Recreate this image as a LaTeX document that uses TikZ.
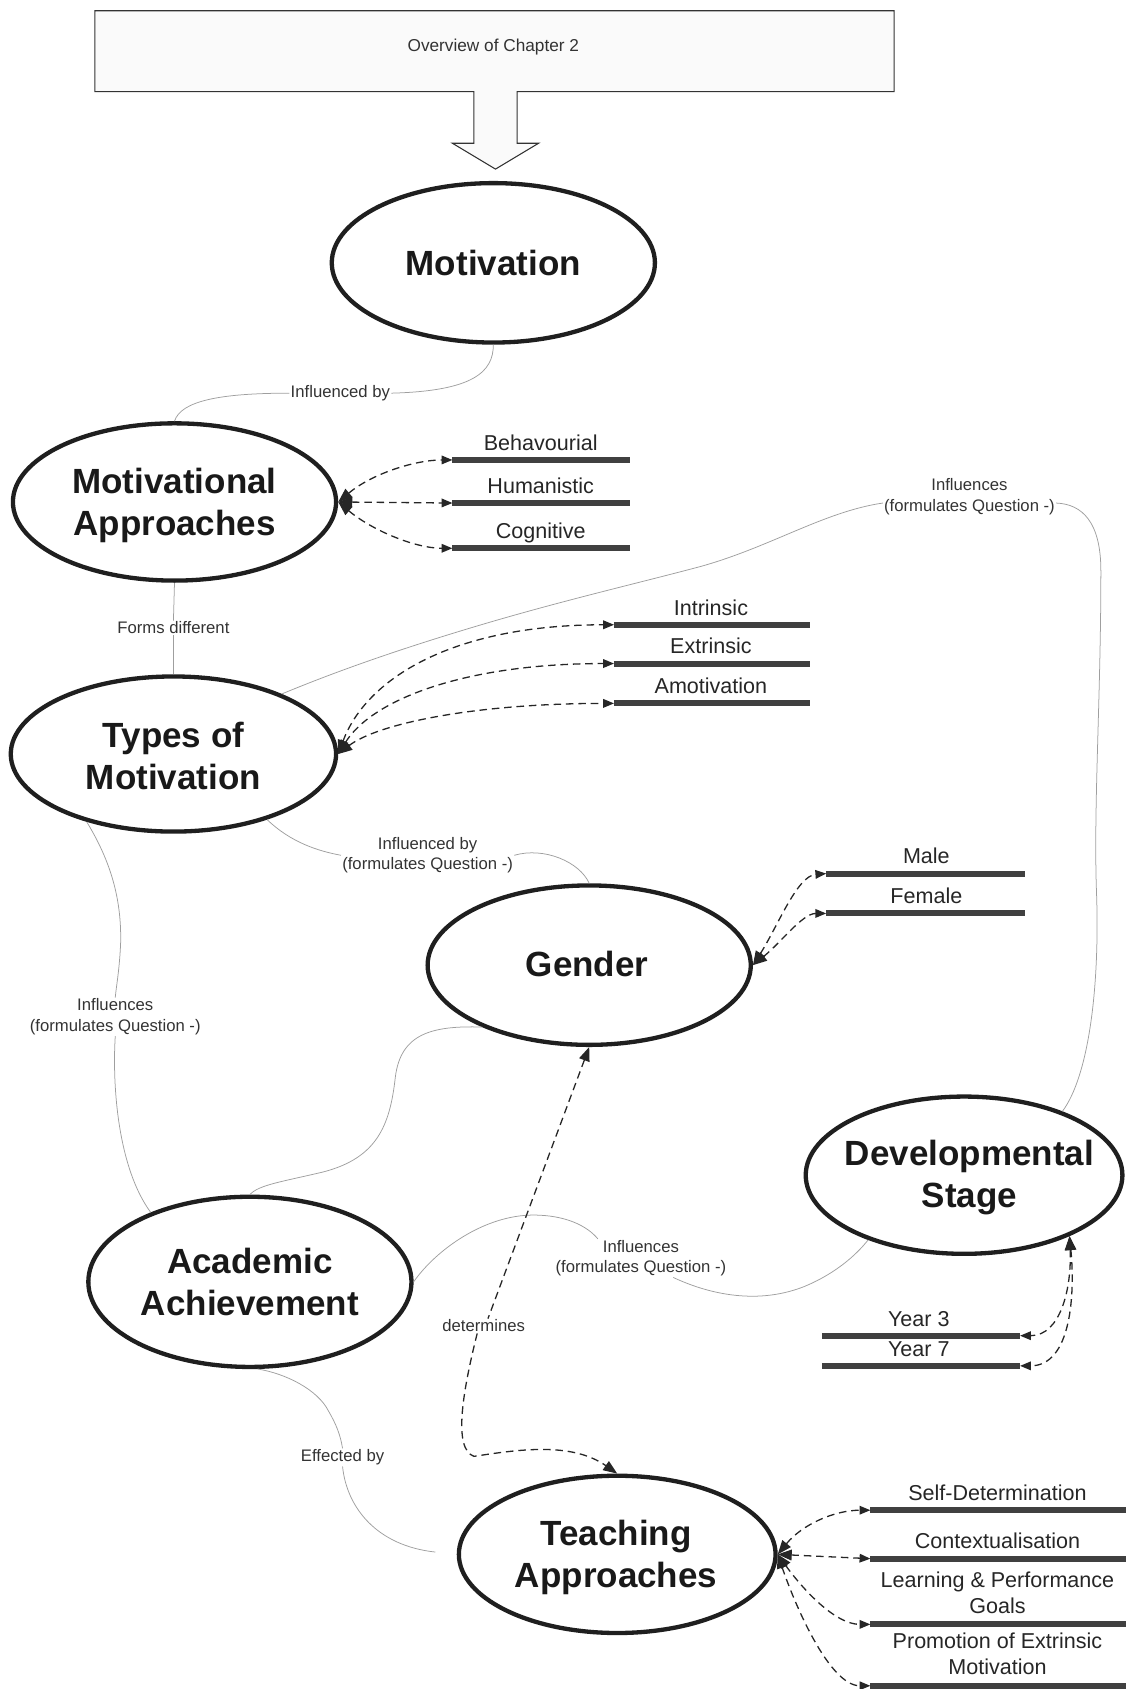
\documentclass[tikz,border=0pt]{standalone}
\usepackage{fontspec}
\setmainfont{Liberation Sans}
\usetikzlibrary{arrows.meta,shapes.geometric}
\begin{document}
\begin{tikzpicture}[x=1pt,y=-1pt,
  ell/.style={ellipse, draw=black!88, line width=4pt, inner sep=0pt},
  bigtxt/.style={font=\fontsize{32.5}{39}\selectfont\bfseries, align=center, text=black!90, inner sep=0pt},
  bartxt/.style={font=\fontsize{20}{24}\selectfont, align=center, text=black!85, inner sep=0pt, anchor=base},
  bartxtc/.style={font=\fontsize{20}{24}\selectfont, align=center, text=black!85, inner sep=0pt},
  lbl/.style={font=\fontsize{15.5}{19}\selectfont, align=center, text=black!80, inner sep=1pt},
  conn/.style={draw=gray!75, line width=0.7pt},
  dlink/.style={draw=black!85, line width=1.2pt, dash pattern=on 7pt off 4.5pt},
  twoway/.style={dlink, arrows={Triangle[length=13pt,width=10pt]-Triangle[length=10pt,width=8pt]}},
  bar/.style={draw=black!75, line width=5.5pt}
]
\useasboundingbox (0,0) rectangle (1045,1568);

% overview box with arrow
\path[draw=black!80, line width=1pt, fill=gray!4]
  (88,10) -- (830,10) -- (830,85) -- (480,85) -- (480,133) -- (500,133) -- (460,157)
  -- (420,133) -- (440,133) -- (440,85) -- (88,85) -- cycle;
\node[font=\fontsize{16}{19}\selectfont, text=black!80] (ovt) at (458,44) {Overview of Chapter 2};

% ellipses
\node[ell, minimum width=300pt, minimum height=148pt] (Mot) at (458,244) {};
\node[ell, minimum width=300pt, minimum height=146pt] (MA) at (162,466) {};
\node[ell, minimum width=302pt, minimum height=144pt] (TM) at (161,700) {};
\node[ell, minimum width=300pt, minimum height=148pt] (Gen) at (547,896) {};
\node[ell, minimum width=294pt, minimum height=146pt] (DS) at (895,1091) {};
\node[ell, minimum width=300pt, minimum height=158pt] (AA) at (232,1190) {};
\node[ell, minimum width=294pt, minimum height=146pt] (TA) at (573,1443) {};

\node[bigtxt] (Mott) at (458,244) {Motivation};
\node[bigtxt] (MAt) at (162,469) {Motivational\\Approaches};
\node[bigtxt] (TMt) at (161,702) {Types of\\Motivation};
\node[bigtxt] (Gent) at (545,895) {Gender};
\node[bigtxt] (DSt) at (900,1093) {Developmental\\Stage};
\node[bigtxt] (AAt) at (232,1190) {Academic\\Achievement};
\node[bigtxt] (TAt) at (572,1446) {Teaching\\Approaches};

% bars
\coordinate (behL) at (420,427); \coordinate (behR) at (585,427);
\coordinate (humL) at (420,467); \coordinate (humR) at (585,467);
\coordinate (cogL) at (420,509); \coordinate (cogR) at (585,509);
\coordinate (intL) at (570,580); \coordinate (intR) at (752,580);
\coordinate (extL) at (570,616); \coordinate (extR) at (752,616);
\coordinate (amoL) at (570,653); \coordinate (amoR) at (752,653);
\coordinate (malL) at (767,811); \coordinate (malR) at (952,811);
\coordinate (femL) at (767,848); \coordinate (femR) at (952,848);
\coordinate (y3L) at (763,1240); \coordinate (y3R) at (947,1240);
\coordinate (y7L) at (763,1268); \coordinate (y7R) at (947,1268);
\coordinate (sdL) at (808,1402); \coordinate (sdR) at (1045,1402);
\coordinate (ctL) at (808,1447); \coordinate (ctR) at (1045,1447);
\coordinate (lpL) at (808,1508); \coordinate (lpR) at (1045,1508);
\coordinate (peL) at (808,1565); \coordinate (peR) at (1045,1565);
\foreach \b in {beh,hum,cog,int,ext,amo,mal,fem,y3,y7,sd,ct,lp,pe}
  \draw[bar] (\b L) -- (\b R);

\node[bartxt] (behT) at (502,418) {Behavourial};
\node[bartxt] (humT) at (502,458) {Humanistic};
\node[bartxt] (cogT) at (502,500) {Cognitive};
\node[bartxt] (intT) at (660,571) {Intrinsic};
\node[bartxt] (extT) at (660,607) {Extrinsic};
\node[bartxt] (amoT) at (660,644) {Amotivation};
\node[bartxt] (malT) at (860,802) {Male};
\node[bartxt] (femT) at (860,839) {Female};
\node[bartxt] (y3T) at (853,1231) {Year 3};
\node[bartxt] (y7T) at (853,1259) {Year 7};
\node[bartxt] (sdT) at (926,1393) {Self-Determination};
\node[bartxt] (ctT) at (926,1438) {Contextualisation};
\node[bartxtc] (lpT) at (926,1479) {Learning \& Performance\\Goals};
\node[bartxtc] (peT) at (926,1535) {Promotion of Extrinsic\\Motivation};

% dashed two-way links
\draw[twoway] (MA.east) .. controls (345,440) and (385,427) .. (behL);
\draw[twoway] (MA.east) -- (humL);
\draw[twoway] (MA.east) .. controls (345,492) and (385,509) .. (cogL);

\draw[twoway] (TM.east) .. controls (340,630) and (420,580) .. (intL);
\draw[twoway] (TM.east) .. controls (345,650) and (430,616) .. (extL);
\draw[twoway] (TM.east) .. controls (350,672) and (440,653) .. (amoL);

\draw[twoway] (Gen.east) .. controls (722,860) and (740,813) .. (malL);
\draw[twoway] (Gen.east) .. controls (725,875) and (745,848) .. (femL);

\draw[twoway] (DS.-30) .. controls (995,1195) and (985,1240) .. (y3R);
\draw[twoway] (DS.-30) .. controls (998,1200) and (995,1268) .. (y7R);

\draw[twoway] (TA.east) .. controls (745,1415) and (775,1402) .. (sdL);
\draw[twoway] (TA.east) -- (ctL);
\draw[twoway] (TA.east) .. controls (745,1475) and (775,1508) .. (lpL);
\draw[twoway] (TA.east) .. controls (738,1490) and (770,1565) .. (peL);

% connector labels
\node[lbl] (L1) at (316,365) {Influenced by};
\node[lbl] (L2) at (161,583) {Forms different};
\node[lbl] (L3) at (900,461) {Influences\\(formulates Question -)};
\node[lbl] (L4) at (397,794) {Influenced by\\(formulates Question -)};
\node[lbl] (L5) at (107,944) {Influences\\(formulates Question -)};
\node[lbl] (L7) at (595,1168) {Influences\\(formulates Question -)};
\node[lbl] (L8) at (449,1231) {determines};
\node[lbl] (L9) at (318,1353) {Effected by};

% grey connectors
\draw[conn] (Mot.south) .. controls (458,345) and (440,363) .. (L1.east);
\draw[conn] (L1.west) .. controls (205,365) and (168,372) .. (MA.north);

\draw[conn] (MA.south) -- (L2.north);
\draw[conn] (L2.south) -- (TM.north);

\draw[conn] (TM.29) .. controls (320,620) and (380,600) .. (440,582)
  .. controls (520,558) and (590,542) .. (650,526)
  .. controls (715,508) and (765,475) .. ([yshift=-6pt]L3.west);
\draw[conn] ([yshift=-6pt]L3.east) .. controls (1005,468) and (1022,485) .. (1022,530)
  .. controls (1022,650) and (1015,750) .. (1018,830)
  .. controls (1021,920) and (1010,1000) .. (DS.33);

\draw[conn] (TM.-35) .. controls (270,782) and (295,790) .. (L4.west);
\draw[conn] (L4.east) .. controls (505,786) and (538,800) .. (Gen.north);

\draw[conn] (TM.-142) .. controls (100,795) and (113,830) .. (112,875)
  .. controls (111,900) and (108,915) .. (L5.north);
\draw[conn] (L5.south) .. controls (104,1010) and (110,1085) .. (AA.145);

\draw[conn] (Gen.-150) .. controls (400,952) and (372,960) .. (367,1000)
  .. controls (362,1045) and (350,1075) .. (300,1088)
  .. controls (262,1097) and (240,1100) .. (AA.north);

\draw[conn] (AA.east) .. controls (405,1160) and (450,1128) .. (495,1128)
  .. controls (525,1128) and (545,1138) .. ([xshift=-40pt]L7.north);
\draw[conn] ([xshift=30pt]L7.south) .. controls (655,1200) and (700,1212) .. (745,1195)
  .. controls (775,1183) and (795,1165) .. (DS.-146);

\draw[conn] (AA.-85) .. controls (265,1275) and (295,1290) .. (305,1310)
  .. controls (312,1322) and (316,1332) .. (L9.north);
\draw[conn, shorten >=20pt] (L9.south) .. controls (322,1400) and (350,1435) .. (TA.west);

% determines
\draw[dlink, arrows={Triangle[length=13pt,width=10pt]-}] (Gen.south) -- ([xshift=4pt]L8.north);
\draw[dlink, arrows={-Triangle[length=13pt,width=10pt]}] ([xshift=-6pt]L8.south)
  .. controls (430,1290) and (420,1345) .. (440,1352)
  .. controls (480,1346) and (530,1338) .. (TA.north);
\end{tikzpicture}
\end{document}
